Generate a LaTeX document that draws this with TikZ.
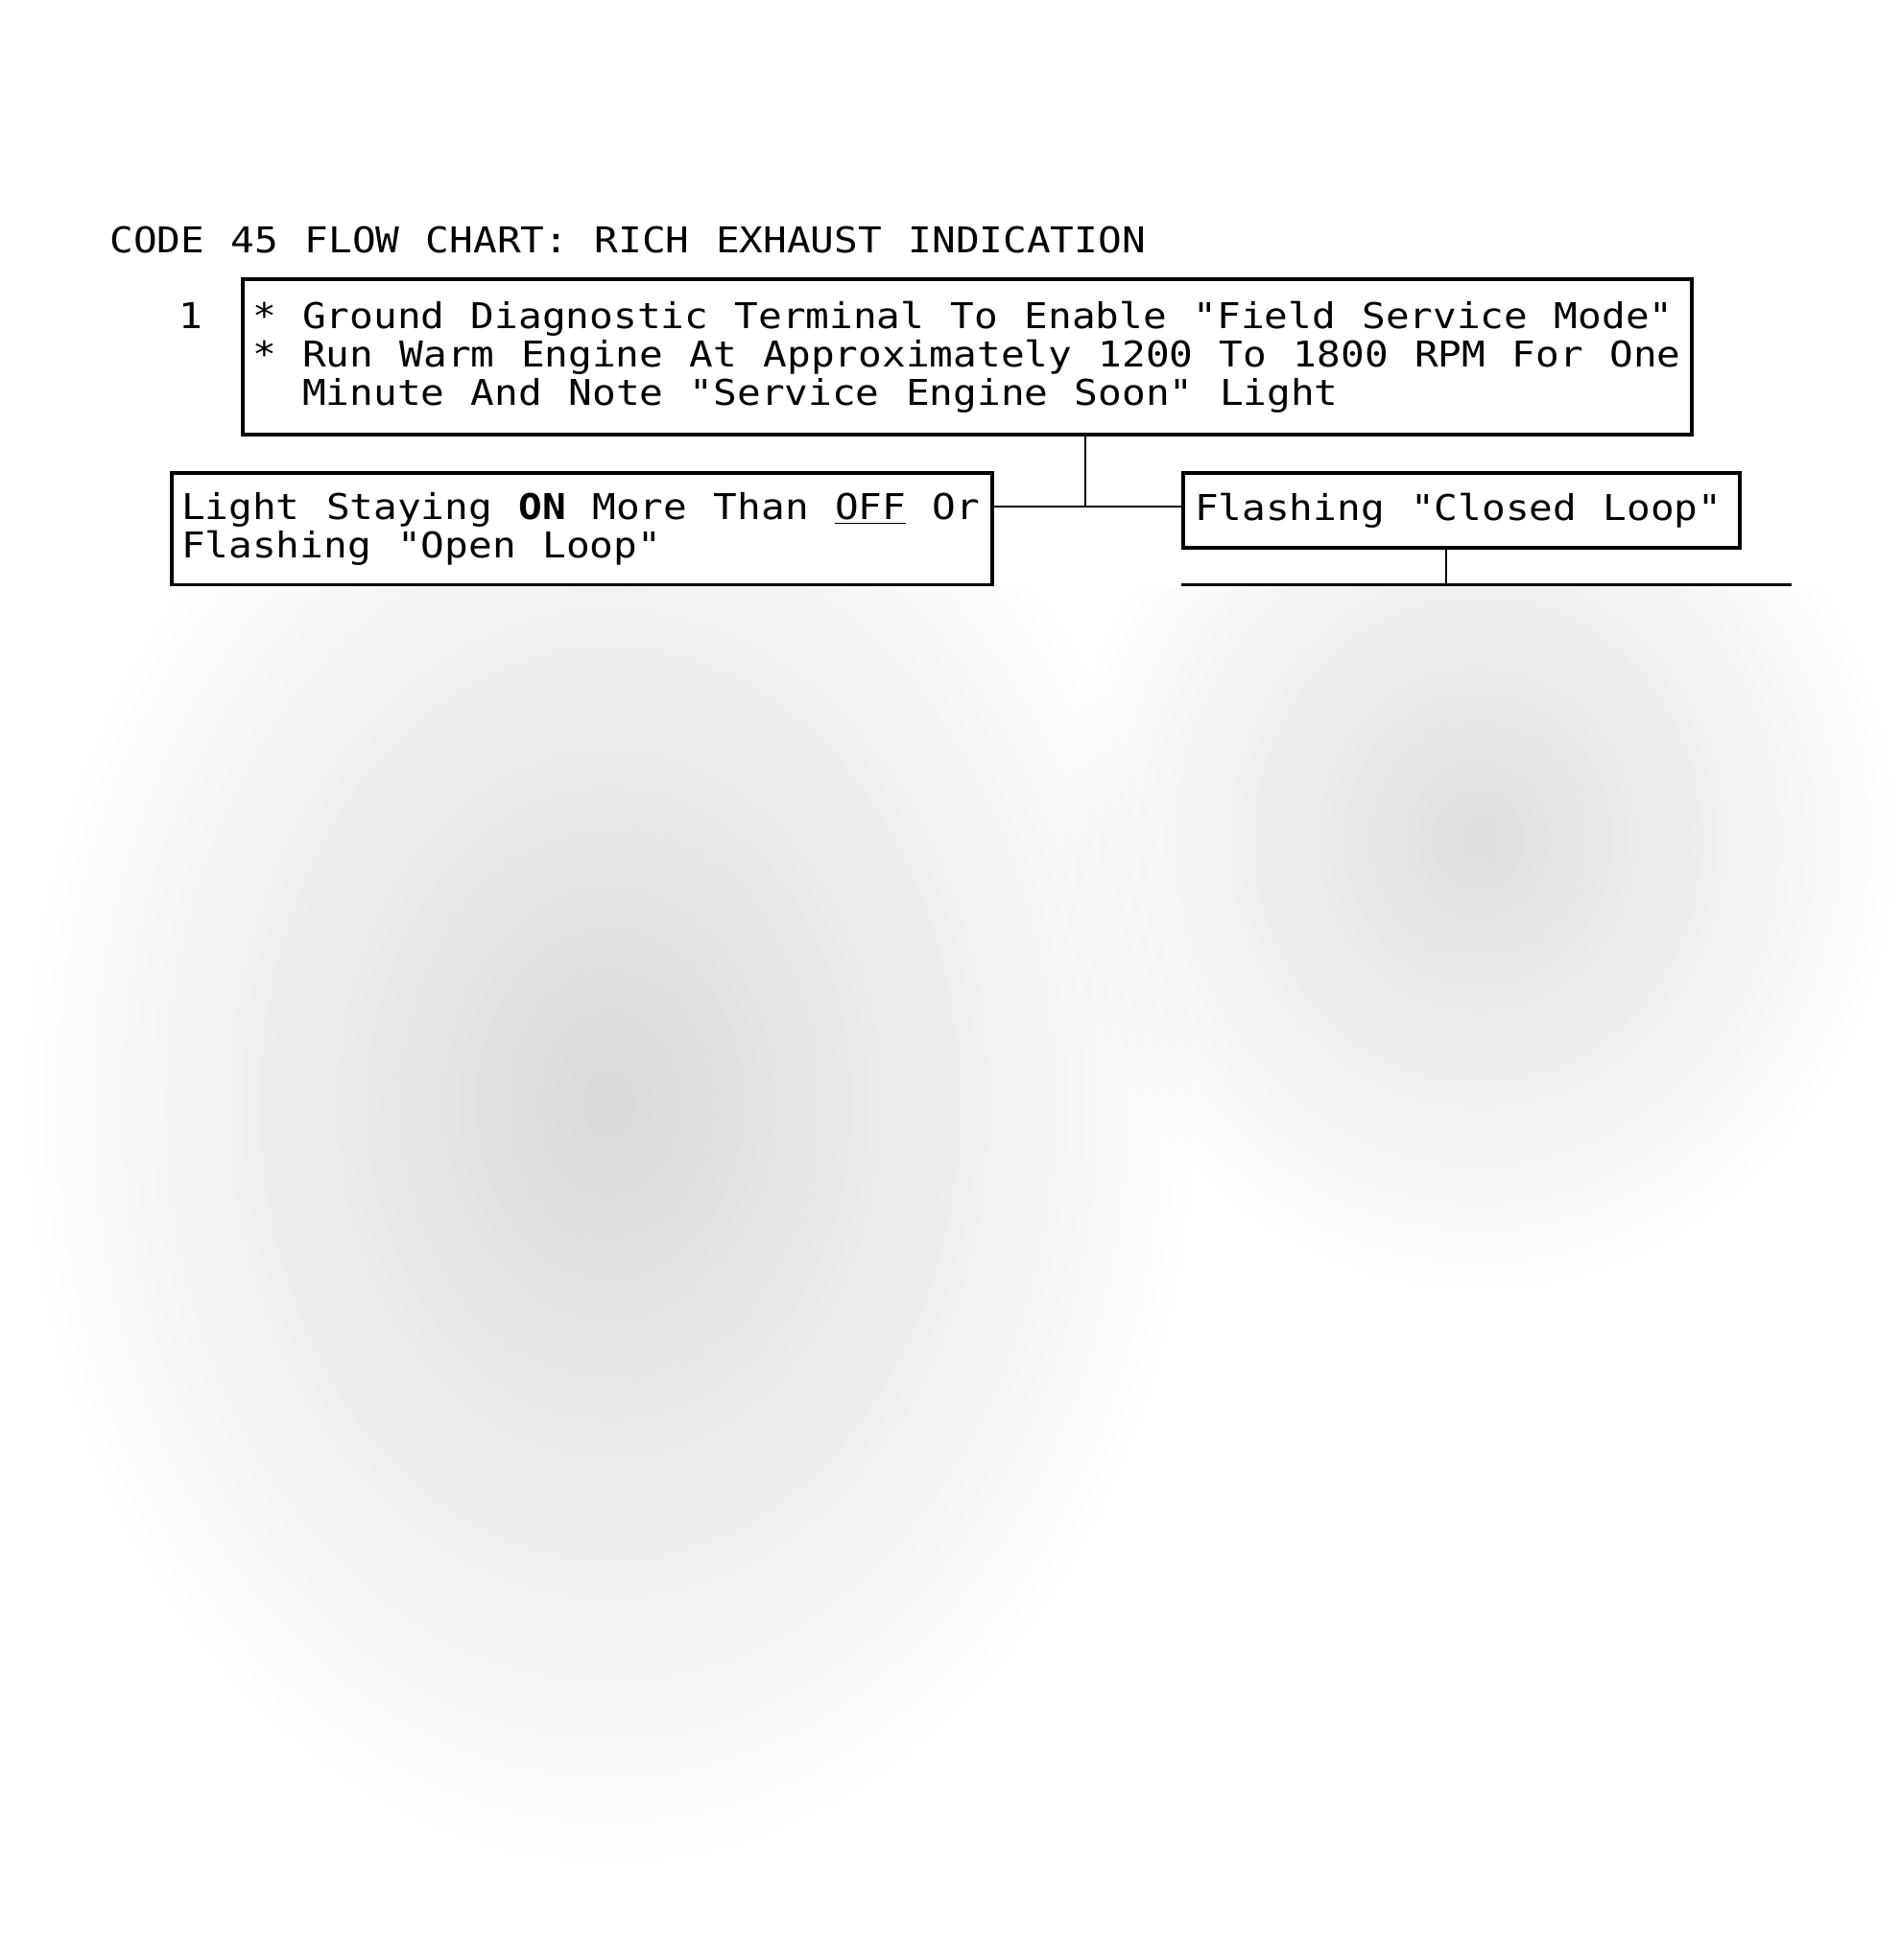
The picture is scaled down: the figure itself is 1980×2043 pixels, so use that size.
\documentclass[tikz,border=0pt]{standalone}
\usepackage{fontspec}
\newfontfamily\chartfont{DejaVu Sans Mono}[FakeStretch=1.11,WordSpace={1.11,0,0}]
\usetikzlibrary{positioning}

\begin{document}
\begin{tikzpicture}[x=0.5pt,y=-0.5pt,line width=1.4pt,
	  every node/.append style={font=\chartfont\fontsize{18.5}{20}\selectfont}]
	  \tikzstyle{box} = [draw,line width=2pt,anchor=north west,align=flush left,inner ysep=0pt]
	  \useasboundingbox (0,0) rectangle (1980,2043);
	  \node (1_0) [anchor=west,inner sep=0pt] at (113,250) {CODE 45 FLOW CHART: RICH EXHAUST INDICATION};
	  \node (1_num) at (199,329) {1};
	  \node (1_1) [box,minimum width=755pt,minimum height=81pt,text width=745pt,inner xsep=5pt] at (251,289)
	    {\relax* Ground Diagnostic Terminal To Enable "Field Service Mode"\\
	     \relax* Run Warm Engine At Approximately 1200 To 1800 RPM For One\\
	     \relax\hphantom{* }Minute And Note "Service Engine Soon" Light};
	  \node (1_2) [box,minimum width=427.5pt,minimum height=58.5pt,text width=417.5pt,inner xsep=5pt] at (177,491)
	    {Light Staying \textbf{ON} More Than \underline{OFF} Or\\
	     Flashing "Open Loop"};
	  \node (1_3) [box,minimum width=290pt,minimum height=39pt,text width=278pt,inner xsep=6pt] at (1231,491)
	    {Flashing "Closed Loop"};
	  \node (1_4) [box,minimum width=316pt,minimum height=100pt] at (1231,608) {};
	  % joins
	  \coordinate (1_a) at (1131,528);
	  \coordinate (1_b) at (1507,608);
	  \draw (1_1.south -| 1_a) -- (1_a);
	  \draw (1_2.east |- 1_a) -- (1_3.west |- 1_a);
	  \draw (1_3.south -| 1_b) -- (1_4.north -| 1_b);
	  % blurred part of the page
	  \begin{scope}
	    \clip (0,611) rectangle (1980,2043);
	    \fill[white] (0,611) rectangle (1980,2043);
	    \shade[blend mode=multiply,inner color=black!15,outer color=white] (20,350) rectangle (1250,1950);
	    \shade[blend mode=multiply,inner color=black!13,outer color=white] (1100,400) rectangle (1980,1350);
	  \end{scope}
\end{tikzpicture}
\end{document}
